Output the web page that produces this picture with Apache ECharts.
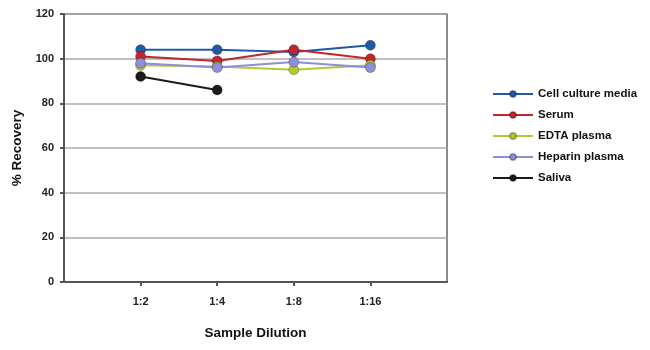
<!DOCTYPE html>
<html lang="en">
<head>
    <meta charset="UTF-8">
    <title>Recovery</title>
    <style>
        body { margin: 0; background: #fff; }
        #chart { width: 650px; height: 350px; }
    </style>
</head>
<body>
<div id="chart"></div>
<script src="https://cdn.jsdelivr.net/npm/echarts@6/dist/echarts.min.js"></script>
<script type="text/javascript">
    // empty slots at both ends keep the dilutions off the plot edges
    const dilutions = ['', '1:2', '1:4', '1:8', '1:16', ''];
    const yTicks = [0, 20, 40, 60, 80, 100, 120];

    const cellCulture = [null, 104, 104, 103, 106, null];
    const serum = [null, 101, 99, 104, 100, null];
    const edta = [null, 97, 96.5, 95, 97, null];
    const heparin = [null, 98, 96, 98.5, 96, null];
    const saliva = [null, 92, 86, null, null, null];

    const names = ['Cell culture media', 'Serum', 'EDTA plasma', 'Heparin plasma', 'Saliva'];
    const colors = ['#2259a6', '#c0262c', '#b3c832', '#8d8fd8', '#1b1b1b'];
    const seriesData = [cellCulture, serum, edta, heparin, saliva];

    const font = '"Liberation Sans", Arial, sans-serif';

    let myChart = echarts.init(document.getElementById('chart'));
    myChart.setOption({
        animation: false,
        textStyle: {fontFamily: font},
        grid: {
            left: 64, top: 14, width: 383, height: 268,
            show: true, borderColor: '#666', borderWidth: 1.5
        },
        legend: {
            orient: 'vertical',
            left: 487, top: 83,
            itemWidth: 40, itemHeight: 8, itemGap: 9,
            data: names,
            textStyle: {fontFamily: font, fontWeight: 'bold', fontSize: 11.5, color: '#111'}
        },
        xAxis: {
            type: 'category',
            data: dilutions,
            boundaryGap: false,
            name: 'Sample Dilution',
            nameLocation: 'middle',
            nameGap: 44,
            nameTextStyle: {fontFamily: font, fontWeight: 'bold', fontSize: 13.5, color: '#111'},
            axisLine: {lineStyle: {color: '#555', width: 2}},
            axisTick: {
                length: 4,
                interval: (i) => i > 0 && i < dilutions.length - 1,
                lineStyle: {color: '#555', width: 2}
            },
            axisLabel: {
                interval: 0, margin: 14,
                fontFamily: font, fontWeight: 'bold', fontSize: 11, color: '#222'
            },
            splitLine: {show: false}
        },
        yAxis: {
            type: 'value',
            min: yTicks[0], max: yTicks[yTicks.length - 1], interval: 20,
            name: '% Recovery',
            nameLocation: 'middle',
            nameGap: 40,
            nameTextStyle: {fontFamily: font, fontWeight: 'bold', fontSize: 13.5, color: '#111'},
            axisLine: {show: true, lineStyle: {color: '#555', width: 2}},
            axisTick: {show: true, length: 4, lineStyle: {color: '#555', width: 2}},
            axisLabel: {fontFamily: font, fontWeight: 'bold', fontSize: 11, color: '#222', margin: 10},
            splitLine: {lineStyle: {color: '#aaa', width: 1.5}}
        },
        series: seriesData.map((d, i) => ({
            name: names[i],
            type: 'line',
            data: d,
            color: colors[i],
            symbol: 'circle',
            symbolSize: 10,
            lineStyle: {width: 2},
            itemStyle: {borderColor: 'rgba(0,0,0,0.25)', borderWidth: 1}
        }))
    });
</script>
</body>
</html>
